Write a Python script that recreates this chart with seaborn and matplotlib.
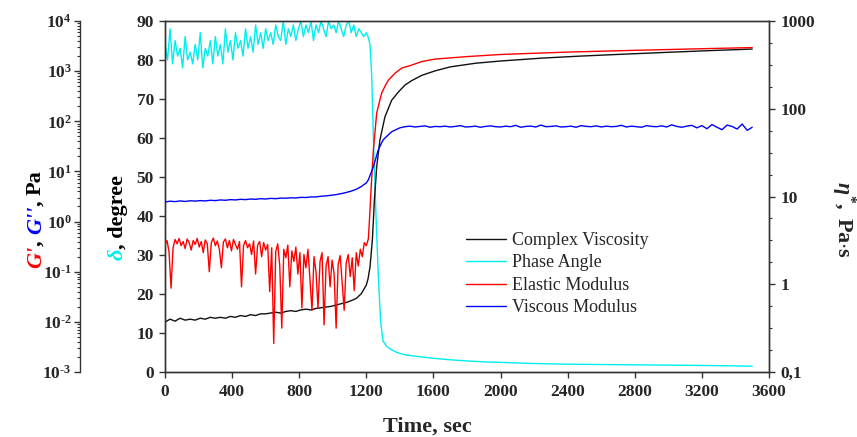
import numpy as np
import matplotlib
matplotlib.use('Agg')
import matplotlib.pyplot as plt
import seaborn as sns

# ---- data ----
# before gelation the rheometer logs at a fixed interval (s)
phase_dt = 15
phase_early = [84, 80, 88, 79, 85, 81, 83, 78, 86, 80,
               82, 79, 84, 80, 87, 78, 83, 81, 85, 79,
               86, 81, 84, 79, 88, 82, 85, 80, 87, 83,
               85, 81, 88, 83, 86, 82, 89, 84, 87, 83,
               88, 85, 87, 84, 89, 86, 85, 90, 84, 88,
               86, 89, 85, 88, 90, 86, 89, 87, 90, 85,
               89, 87, 90, 88, 86, 90, 88, 89, 87, 90,
               88, 86, 89, 90, 87, 89, 86, 88, 87, 86,
               87]
phase_late_t = [1210, 1222, 1232, 1242, 1256, 1271, 1285, 1299, 1320, 1350, 1383, 1430,
                1500, 1580, 1680, 1776, 1900, 2050, 2175, 2400, 2650, 2900, 3150, 3350, 3500]
phase_late = [86, 84, 76, 60, 42, 25, 13, 8.0, 6.6, 5.7, 5.0, 4.4,
              4.0, 3.6, 3.2, 2.9, 2.6, 2.4, 2.2, 2.0, 1.9, 1.8, 1.7, 1.6, 1.5]

elastic_dt = 12
elastic_early = [0.34, 0.42, 0.25, 0.047, 0.30, 0.44, 0.36, 0.46, 0.33, 0.40,
                 0.29, 0.45, 0.38, 0.27, 0.42, 0.35, 0.46, 0.31, 0.40, 0.24,
                 0.43, 0.36, 0.10, 0.38, 0.47, 0.33, 0.41, 0.28, 0.12, 0.39,
                 0.45, 0.30, 0.42, 0.26, 0.44, 0.35, 0.28, 0.40, 0.050, 0.33,
                 0.42, 0.30, 0.36, 0.22, 0.41, 0.090, 0.34, 0.40, 0.20, 0.38,
                 0.27, 0.35, 0.040, 0.30, 0.0037, 0.25, 0.36, 0.13, 0.0075, 0.28,
                 0.19, 0.34, 0.050, 0.26, 0.16, 0.31, 0.090, 0.24, 0.019, 0.22,
                 0.12, 0.28, 0.070, 0.017, 0.20, 0.10, 0.019, 0.16, 0.24, 0.0087,
                 0.13, 0.20, 0.050, 0.17, 0.090, 0.0075, 0.14, 0.21, 0.060, 0.017,
                 0.15, 0.22, 0.080, 0.19, 0.042, 0.24, 0.13, 0.28, 0.20, 0.38,
                 0.33]
elastic_late_t = [1212, 1220, 1228, 1242, 1262, 1291, 1311, 1331, 1371, 1411, 1470,
                  1530, 1609, 1800, 2000, 2400, 2800, 3200, 3500]
elastic_late = [0.45, 1.3, 4.3, 27, 148, 363, 500, 660, 910, 1150, 1320,
                1550, 1740, 1950, 2150, 2400, 2600, 2800, 2950]

visc_dt = 30
visc_early = [0.37, 0.40, 0.38, 0.41, 0.39, 0.40, 0.39, 0.41, 0.40, 0.42,
              0.41, 0.42, 0.41, 0.43, 0.42, 0.44, 0.43, 0.45, 0.44, 0.46,
              0.46, 0.47, 0.48, 0.47, 0.49, 0.50, 0.49, 0.51, 0.52, 0.51,
              0.53, 0.54, 0.55, 0.56, 0.58, 0.60, 0.62, 0.65, 0.69, 0.78,
              0.98]
visc_late_t = [1210, 1222, 1236, 1248, 1262, 1281, 1311, 1351, 1391, 1430, 1470, 1530,
               1609, 1700, 1850, 2000, 2250, 2474, 2750, 3000, 3250, 3500]
visc_late = [1.15, 1.58, 3.2, 9.1, 22, 44, 81, 125, 155, 186, 209, 240,
             270, 300, 330, 350, 378, 398, 420, 440, 460, 479]

loss_dt = 30
loss_early = [2.45, 2.55, 2.50, 2.58, 2.52, 2.60, 2.56, 2.62, 2.58, 2.66,
              2.62, 2.70, 2.66, 2.74, 2.70, 2.78, 2.74, 2.82, 2.78, 2.86,
              2.82, 2.90, 2.86, 2.94, 2.92, 2.98, 2.96, 3.04, 3.02, 3.10,
              3.10, 3.20, 3.25, 3.35, 3.45, 3.60, 3.80, 4.05, 4.40, 5.0,
              5.9]
loss_rise_t = [1212, 1242, 1271, 1301, 1351, 1400]
loss_rise = [6.8, 12.4, 27, 43, 62, 74]
loss_plateau_t0 = 1430
loss_plateau = [78, 80, 77, 79, 81, 76, 79, 78, 80, 77,
                79, 82, 77, 78, 80, 76, 79, 81, 78, 77,
                80, 78, 83, 76, 79, 80, 77, 84, 78, 79,
                81, 77, 78, 80, 76, 82, 79, 78, 81, 77,
                80, 78, 79, 83, 77, 80, 78, 76, 82, 79,
                78, 81, 77, 85, 79, 76, 80, 83, 74, 82,
                71, 86, 76, 68, 84, 79, 70, 88, 66, 76]

t_phase = np.concatenate([np.arange(len(phase_early)) * phase_dt, phase_late_t])
y_phase = np.concatenate([phase_early, phase_late])
t_el = np.concatenate([np.arange(len(elastic_early)) * elastic_dt, elastic_late_t])
y_el = np.concatenate([elastic_early, elastic_late])
t_visc = np.concatenate([np.arange(len(visc_early)) * visc_dt, visc_late_t])
y_visc = np.concatenate([visc_early, visc_late])
t_loss = np.concatenate([np.arange(len(loss_early)) * loss_dt, loss_rise_t,
                         loss_plateau_t0 + np.arange(len(loss_plateau)) * loss_dt])
y_loss = np.concatenate([loss_early, loss_rise, loss_plateau])

# ---- style ----
sns.set_theme(style='ticks')
plt.rcParams['font.family'] = ['Liberation Serif', 'DejaVu Serif']
plt.rcParams['font.weight'] = 'bold'
plt.rcParams['mathtext.fontset'] = 'custom'
plt.rcParams['mathtext.rm'] = 'Liberation Serif:bold'
plt.rcParams['mathtext.bf'] = 'Liberation Serif:bold'
plt.rcParams['mathtext.it'] = 'Liberation Serif:bold:italic'
plt.rcParams['axes.edgecolor'] = '#333333'
plt.rcParams['axes.linewidth'] = 1.0

W, H = 857, 437
fig = plt.figure(figsize=(W / 100, H / 100), dpi=100)
ax = fig.add_axes([165 / W, 1 - 372 / H, (769 - 165) / W, (372 - 21) / H])
ax_eta = ax.twinx()
ax_mod = ax.twinx()

lw = 1.0
sns.lineplot(x=t_visc, y=y_visc, ax=ax_eta, color='#111111', linewidth=lw, estimator=None)
sns.lineplot(x=t_phase, y=y_phase, ax=ax, color='#00eeee', linewidth=lw, estimator=None)
sns.lineplot(x=t_el, y=y_el, ax=ax_mod, color='#ff0000', linewidth=lw, estimator=None)
sns.lineplot(x=t_loss, y=y_loss, ax=ax_mod, color='#0000ff', linewidth=lw, estimator=None)
handles = [ax_eta.lines[0], ax.lines[0], ax_mod.lines[0], ax_mod.lines[1]]

tick_kw = dict(direction='out', length=4.5, width=1.0, color='#333333', labelsize=12.5)

# phase angle / time (host)
ax.set_xlim(0, 3600)
ax.set_xticks(range(0, 3601, 400))
ax.set_ylim(0, 90)
ax.set_yticks(range(0, 91, 10))
ax.set_xlabel('')
ax.set_ylabel('')
ax.tick_params(axis='both', **tick_kw)
ax.tick_params(axis='x', pad=4.5)

# complex viscosity (right)
ax_eta.set_yscale('log')
ax_eta.set_ylim(0.1, 1000)
ax_eta.set_yticks([0.1, 1, 10, 100, 1000])
ax_eta.set_yticklabels(['0,1', '1', '10', '100', '1000'])
ax_eta.set_yticks([10 ** (k + f) for k in range(-1, 3) for f in (0.25, 0.5, 0.75)], minor=True)
ax_eta.set_ylabel('')
ax_eta.tick_params(axis='y', which='major', **tick_kw)
ax_eta.tick_params(axis='y', which='minor', direction='out', length=2.5, width=0.8, color='#333333')

# moduli (outer left)
ax_mod.set_yscale('log')
ax_mod.set_ylim(1e-3, 1e4)
ax_mod.set_yticks([10.0 ** k for k in range(-3, 5)])
ax_mod.set_yticklabels([r'$\mathbf{10^{%s}}$' % str(k).replace('-', '\u2010') for k in range(-3, 5)])
ax_mod.set_yticks([m * 10.0 ** k for k in range(-3, 4) for m in range(2, 10)], minor=True)
ax_mod.set_ylabel('')
ax_mod.spines['left'].set_position(('axes', -85 / 604))
ax_mod.spines['left'].set_visible(True)
for s in ('right', 'top', 'bottom'):
    ax_mod.spines[s].set_visible(False)
ax_mod.yaxis.set_ticks_position('left')
ax_mod.tick_params(axis='y', which='major', pad=1.5, **tick_kw)
ax_mod.tick_params(axis='y', which='minor', direction='out', length=2.5, width=0.8, color='#333333')

# ---- axis titles ----
renderer = fig.canvas.get_renderer()


def vertical_label(x_px, y_px, pieces):
    # stack coloured pieces bottom-to-top along one rotated baseline
    y = H - y_px
    for txt, color, style in pieces:
        t = fig.text(x_px / W, y / H, txt, color=color, fontstyle=style, fontsize=16,
                     fontweight='bold', rotation=90, rotation_mode='anchor',
                     ha='left', va='baseline')
        y += t.get_window_extent(renderer).height


vertical_label(41, 268, [("G'", '#ff0000', 'italic'), (', ', 'black', 'normal'),
                         ("G''", '#0000ff', 'italic'), (', ', 'black', 'normal'),
                         ('Pa', 'black', 'normal')])
vertical_label(123, 260, [('δ', '#00eeee', 'italic'), (', degree', 'black', 'normal')])
fig.text(843 / W, 1 - 220 / H, r'$\eta^{*}\mathbf{,\ Pa{\cdot}s}$', rotation=270,
         ha='center', va='center', fontsize=16)
fig.text(427 / W, 1 - 427 / H, 'Time, sec', ha='center', va='center', fontsize=16,
         fontweight='bold')

fig.legend(handles, ['Complex Viscosity', 'Phase Angle', 'Elastic Modulus', 'Viscous Modulus'],
           loc='upper left', bbox_to_anchor=(466 / W, 1 - 232 / H), frameon=False,
           prop={'family': 'Liberation Serif', 'weight': 'normal', 'size': 13},
           handlelength=2.2, handletextpad=0.35, labelspacing=0.3,
           borderpad=0, borderaxespad=0)

fig.savefig('out.png', dpi=100, facecolor='white')
